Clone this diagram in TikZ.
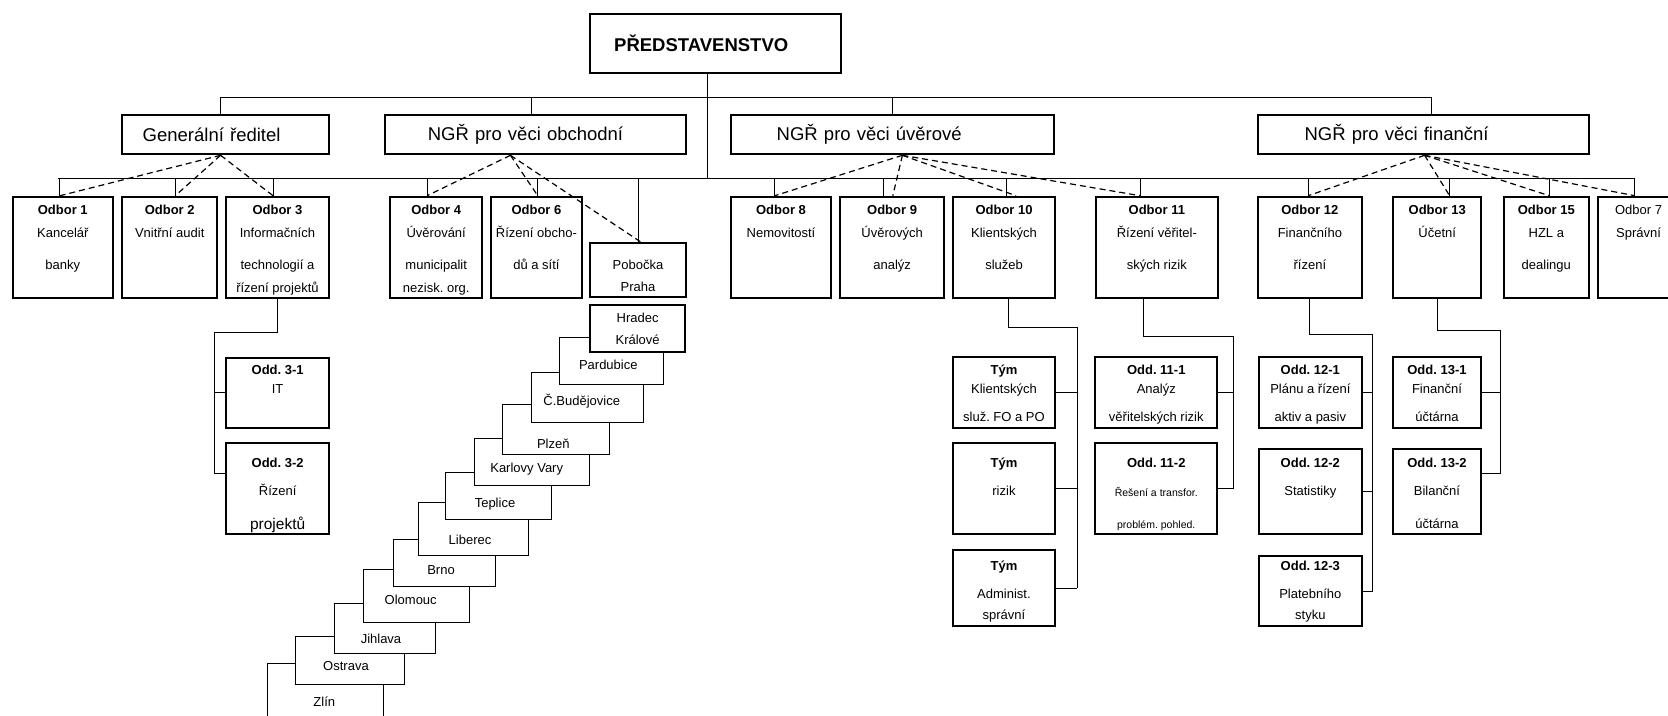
\documentclass[tikz,border=0pt]{standalone}
\usepackage{fontspec}
\setmainfont{Liberation Sans}
\usetikzlibrary{positioning}
\frenchspacing

\begin{document}
\begin{tikzpicture}[
      x=1pt, y=-1pt,
      spoj/.style={line width=1pt},
      vazba/.style={line width=1.2pt, dash pattern=on 6pt off 4pt},
      hlava/.style 2 args={draw, line width=2pt, fill=white, anchor=north west, minimum height=39, text width=#1, inner xsep=#2, inner ysep=0pt, align=left, font=\fontsize{18.5}{22}\selectfont},
      blok/.style 2 args={draw, line width=2pt, fill=white, anchor=north west, inner sep=0pt, minimum width=#1, minimum height=#2},
      mesto/.style 2 args={blok={#1}{#2}, line width=1pt},
      popis/.style={align=center, inner sep=0pt, font=\fontsize{13}{23}\selectfont},
      popis2/.style={popis, font=\fontsize{13}{18.3}\selectfont},
      jmeno/.style={inner sep=0pt, anchor=base, font=\fontsize{13}{15}\selectfont}
  ]
      \useasboundingbox (0,0) rectangle (1668,715);

      % Vedení
      \node[hlava={202.6pt}{24.2pt}, minimum height=59, font=\bfseries\fontsize{18.5}{22}\selectfont] (pred) at (589,12.7) {PŘEDSTAVENSTVO};
      \node[hlava={165.2pt}{21pt}] (gr) at (120.7,114.3) {Generální ředitel};
      \node[hlava={215.3pt}{42.5pt}] (obch) at (384.3,114.3) {NGŘ pro věci obchodní};
      \node[hlava={231.8pt}{45.7pt}] (uv) at (730,114.3) {NGŘ pro věci úvěrové};
      \node[hlava={237.4pt}{46.7pt}] (fin) at (1256.9,114.3) {NGŘ pro věci finanční};

      % Odbory
      \node[blok={100}{101}] (o1) at (11.8,195.7) {};
      \node[blok={94.6}{101}] (o2) at (121.4,195.7) {};
      \node[blok={102.9}{101}] (o3) at (225,195.7) {};
      \node[blok={91.8}{101}] (o4) at (389.3,195.7) {};
      \node[blok={90.5}{101}] (o6) at (490.2,195.7) {};
      \node[blok={96}{54.3}] (praha) at (589,241.7) {};
      \node[blok={100}{101}] (o8) at (730,195.7) {};
      \node[blok={103.6}{101}] (o9) at (839.3,195.7) {};
      \node[blok={102.5}{101}] (o10) at (951.8,195.7) {};
      \node[blok={121.7}{101}] (o11) at (1095,195.7) {};
      \node[blok={104}{101}] (o12) at (1256.9,195.7) {};
      \node[blok={88.4}{101}] (o13) at (1392,195.7) {};
      \node[blok={84.8}{101}] (o15) at (1502.9,195.7) {};
      \node[blok={81.6}{101}] (o7) at (1596.7,195.7) {};

      \node[popis, below=8.8pt of o1.north] (to1) {\textbf{Odbor 1}\\Kancelář\\[9pt]banky};
      \node[popis, below=8.8pt of o2.north] (to2) {\textbf{Odbor 2}\\Vnitřní audit};
      \node[popis, below=8.8pt of o3.north] (to3) {\textbf{Odbor 3}\\Informačních\\[9pt]technologií a\\řízení projektů};
      \node[popis, below=8.8pt of o4.north] (to4) {\textbf{Odbor 4}\\Úvěrování\\[9pt]municipalit\\nezisk. org.};
      \node[popis, below=8.8pt of o6.north] (to6) {\textbf{Odbor 6}\\Řízení obcho-\\[9pt]dů a sítí};
      \node[popis, below=18.5pt of praha.north] (tpraha) {Pobočka\\[-1.3pt]Praha};
      \node[popis, below=8.8pt of o8.north] (to8) {\textbf{Odbor 8}\\Nemovitostí};
      \node[popis, below=8.8pt of o9.north] (to9) {\textbf{Odbor 9}\\Úvěrových\\[9pt]analýz};
      \node[popis, below=8.8pt of o10.north] (to10) {\textbf{Odbor 10}\\Klientských\\[9pt]služeb};
      \node[popis, below=8.8pt of o11.north] (to11) {\textbf{Odbor 11}\\Řízení věřitel-\\[9pt]ských rizik};
      \node[popis, below=8.8pt of o12.north] (to12) {\textbf{Odbor 12}\\Finančního\\[9pt]řízení};
      \node[popis, below=8.8pt of o13.north] (to13) {\textbf{Odbor 13}\\Účetní};
      \node[popis, below=8.8pt of o15.north] (to15) {\textbf{Odbor 15}\\HZL a\\[9pt]dealingu};
      \node[popis, below=8.8pt of o7.north] (to7) {Odbor 7\\Správní};

      % Oddělení a týmy
      \node[blok={103.3}{70}] (d31) at (225,356.7) {};
      \node[blok={103.3}{91}] (d32) at (225,442.3) {};
      \node[blok={101.7}{70.7}] (tk) at (952.1,356) {};
      \node[blok={101.7}{91}] (tr) at (952.1,442.3) {};
      \node[blok={101.7}{76}] (ta) at (952.1,549) {};
      \node[blok={121.9}{70.7}] (d111) at (1094.3,356) {};
      \node[blok={121.9}{91}] (d112) at (1094.3,442.3) {};
      \node[blok={103.5}{70.7}] (d121) at (1257.6,356) {};
      \node[blok={103.5}{85}] (d122) at (1257.6,448.3) {};
      \node[blok={103.5}{70}] (d123) at (1257.6,555) {};
      \node[blok={87.5}{70.7}] (d131) at (1392.2,356) {};
      \node[blok={87.5}{85}] (d132) at (1392.2,448.3) {};

      \node[popis2, below=8.5pt of d31.north] (td31) {\textbf{Odd. 3-1}\\IT};
      \node[popis2, below=15.2pt of d32.north] (td32) {\textbf{Odd. 3-2}\\[10.4pt]Řízení\\[15.6pt]{\fontsize{15.5}{18}\selectfont projektů}};
      \node[popis2, below=9.2pt of tk.north] (ttk) {\textbf{Tým}\\Klientských\\[10.1pt]služ. FO a PO};
      \node[popis2, below=15.2pt of tr.north] (ttr) {\textbf{Tým}\\[10.4pt]rizik};
      \node[popis2, below=11.9pt of ta.north] (tta) {\textbf{Tým}\\[9.3pt]Administ.\\[3.4pt]správní};
      \node[popis2, below=9.2pt of d111.north] (td111) {\textbf{Odd. 11-1}\\Analýz\\[10.1pt]věřitelských rizik};
      \node[popis2, below=15.2pt of d112.north] (td112) {\textbf{Odd. 11-2}\\[10.8pt]{\fontsize{10.5}{12}\selectfont Řešení a transfor.}\\[14.4pt]{\fontsize{10.5}{12}\selectfont problém. pohled.}};
      \node[popis2, below=9.2pt of d121.north] (td121) {\textbf{Odd. 12-1}\\Plánu a řízení\\[10.1pt]aktiv a pasiv};
      \node[popis2, below=9.2pt of d122.north] (td122) {\textbf{Odd. 12-2}\\[10.4pt]Statistiky};
      \node[popis2, below=5.9pt of d123.north] (td123) {\textbf{Odd. 12-3}\\[9.3pt]Platebního\\[3.4pt]styku};
      \node[popis2, below=9.2pt of d131.north] (td131) {\textbf{Odd. 13-1}\\Finanční\\[10.1pt]účtárna};
      \node[popis2, below=9.2pt of d132.north] (td132) {\textbf{Odd. 13-2}\\[10.4pt]Bilanční\\[14pt]účtárna};

      % Pobočky (schody)
      \node[mesto={116}{70}] (zlin) at (266.7,663.3) {};
      \node[mesto={109}{48.3}] (ostr) at (295.3,636) {};
      \node[mesto={101}{49.4}] (jihl) at (334,603.3) {};
      \node[mesto={106}{52.4}] (olom) at (362.7,569.3) {};
      \node[mesto={102.3}{47}] (brno) at (392.7,539) {};
      \node[mesto={109.7}{53.3}] (lib) at (418,501.7) {};
      \node[mesto={105.7}{47}] (tepl) at (445,472.3) {};
      \node[mesto={114.7}{47.3}] (kv) at (474,437.7) {};
      \node[mesto={107.6}{50}] (plz) at (501.7,404) {};
      \node[mesto={112.6}{50}] (cb) at (530.7,371.7) {};
      \node[mesto={103.7}{46.7}] (pard) at (559,337.3) {};
      \node[blok={94.7}{46.7}] (hk) at (589.3,304) {};
      \node[popis, below=8.5pt of hk.north] (thk) {Hradec\\[-0.3pt]Králové};

      \node[jmeno] (tpard) at (608.3,369.7) {Pardubice};
      \node[jmeno] (tcb) at (581.7,405.7) {Č.Budějovice};
      \node[jmeno] (tplz) at (553.3,448) {Plzeň};
      \node[jmeno] (tkv) at (526.7,472) {Karlovy Vary};
      \node[jmeno] (ttepl) at (495,507) {Teplice};
      \node[jmeno] (tlib) at (470,544) {Liberec};
      \node[jmeno] (tbrno) at (441,574.7) {Brno};
      \node[jmeno] (tolom) at (410.7,604.7) {Olomouc};
      \node[jmeno] (tjihl) at (381,643.7) {Jihlava};
      \node[jmeno] (tostr) at (346,670.7) {Ostrava};
      \node[jmeno] (tzlin) at (324.3,706.3) {Zlín};

      % Sběrnice
      \coordinate (tb) at (0,97.7);
      \coordinate (busL) at (58.2,178);
      \coordinate (busR) at (1633.7,178);

      \draw[spoj] ([xshift=-4.7]gr.north) -- ([xshift=-4.7]gr.north |- tb) -- ([xshift=8]fin.north |- tb) -- ([xshift=8]fin.north);
      \draw[spoj] ([xshift=-3.8]obch.north) -- ([xshift=-3.8]obch.north |- tb);
      \draw[spoj] (uv.north) -- (uv.north |- tb);
      \draw[spoj] ([xshift=-7.7]pred.south) -- ([xshift=-7.7]pred.south |- busL);
      \draw[spoj] (busL) -- (busR);
      \foreach \n/\dx in {o1/-3.6, o2/5.6, o3/-4.4, o4/-9.1, o6/1.3, praha/0.7, o8/-6.1, o9/-8.2, o10/2, o11/-16.8, o12/-1.7, o13/12.4, o15/2.9, o7/-3.8}
        \draw[spoj] ([xshift=\dx]\n.north) -- ([xshift=\dx]\n.north |- busL);

      % Přímé řízení
      \foreach \n/\dx in {o1/-2.8, o2/5.6, o3/-4.4}
        \draw[vazba] ([xshift=-4.7]gr.south) -- ([xshift=\dx]\n.north);
      \foreach \n/\dx in {o4/-9.1, o6/1.3, praha/2.3}
        \draw[vazba] ([xshift=-25]obch.south) -- ([xshift=\dx]\n.north);
      \foreach \n/\dx in {o8/-6.1, o9/0.7, o10/12, o11/-16.8}
        \draw[vazba] ([xshift=9.8]uv.south) -- ([xshift=\dx]\n.north);
      \foreach \n/\dx in {o12/-1.7, o13/12.4, o15/2.9, o7/-3.8}
        \draw[vazba] ([xshift=1.3]fin.south) -- ([xshift=\dx]\n.north);

      % Větve oddělení
      \coordinate (s3) at (214.3,332.7);
      \draw[spoj] (o3.south) |- (s3) -- ([yshift=15.5]s3 |- d32.west) -- ([yshift=15.5]d32.west);
      \draw[spoj] (s3 |- d31.west) -- (d31.west);

      \coordinate (s10) at (1077,327.3);
      \draw[spoj] ([xshift=4.7]o10.south) |- (s10) -- (s10 |- ta.east);
      \foreach \n in {tk, tr, ta}
        \draw[spoj] (\n.east) -- (\n.east -| s10);

      \coordinate (s11) at (1233.1,336.5);
      \draw[spoj] ([xshift=-13.2]o11.south) |- (s11) -- (s11 |- d112.east);
      \foreach \n in {d111, d112}
        \draw[spoj] (\n.east) -- (\n.east -| s11);

      \coordinate (s12) at (1372.9,334.3);
      \draw[spoj] (o12.south) |- (s12) -- (s12 |- d123.east);
      \foreach \n in {d121, d122, d123}
        \draw[spoj] (\n.east) -- (\n.east -| s12);

      \coordinate (s13) at (1500.4,330);
      \draw[spoj] (o13.south) |- (s13) -- ([yshift=18]s13 |- d132.east);
      \draw[spoj] (d131.east) -- (d131.east -| s13);
      \draw[spoj] ([yshift=18]d132.east) -- ([yshift=18]d132.east -| s13);

\end{tikzpicture}
\end{document}
